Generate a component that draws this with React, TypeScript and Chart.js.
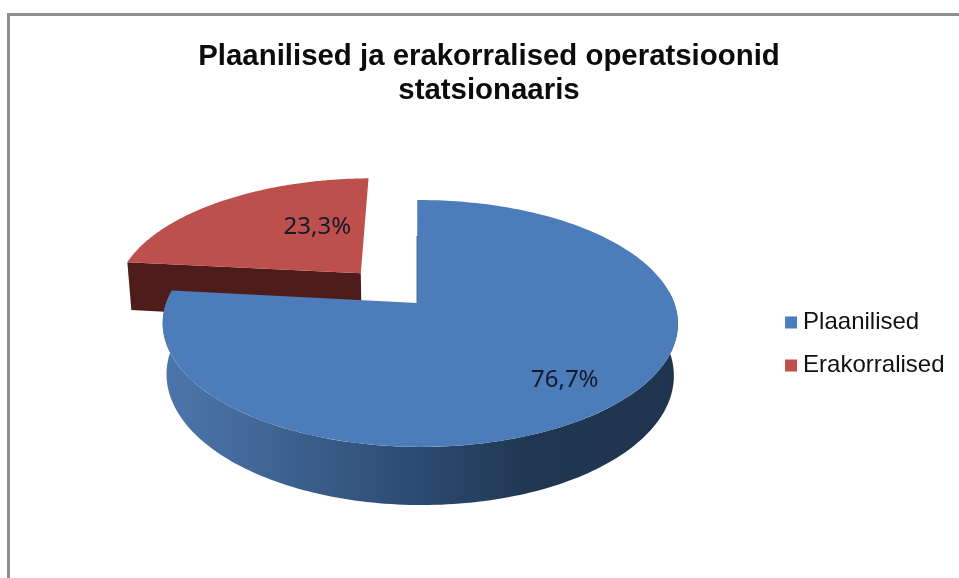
import React, { useEffect, useRef } from "react";
import { Chart, registerables } from "chart.js";

Chart.register(...registerables);

const categories = ["Plaanilised", "Erakorralised"];
const shares = [76.7, 23.3];
const titleLines = ["Plaanilised ja erakorralised operatsioonid", "statsionaaris"];
const faceColors = ["#4c7dba", "#bd4f4c"];
const legendColors = ["#4a7dc0", "#c0504d"];

// Perspective view of the disc (all ratios of the library's computed radius)
const PX = 1 / 138;
const VIEW = {
  scaleX: 254 * PX,
  scaleY: 120 * PX,
  depth: 51.5 * PX,
  tiltY: 0.166,
  tiltX: -0.0116,
  recede: 0.015,
  liftY: -41,
  shiftX: 19.5,
};

function pieMakerPlugin() {
  return {
    id: "pie3d",
    beforeDatasetsDraw(chart: any) {
      const ctx = chart.ctx;
      const arcs = chart.getDatasetMeta(0).data as any[];
      const first = arcs[0];
      const R = first.outerRadius;
      const ox = first.x + VIEW.shiftX;
      const oy = first.y + VIEW.liftY;
      const project = (u: number, v: number, z: number) => {
        const w = 1 - VIEW.tiltY * v + VIEW.tiltX * u + VIEW.recede * z;
        return [ox + (R * VIEW.scaleX * u) / w, oy + (R * VIEW.scaleY * v + R * VIEW.depth * z) / w];
      };
      const sliceOf = (arc: any) => {
        const mid = (arc.startAngle + arc.endAngle) / 2;
        const d = (arc.options.offset || 0) / 4 / R;
        return { mid, du: d * Math.cos(mid), dv: d * Math.sin(mid), a0: arc.startAngle, a1: arc.endAngle };
      };
      const rim = (s: any, a: number, z: number) => project(s.du + Math.cos(a), s.dv + Math.sin(a), z);
      const apex = (s: any, z: number) => project(s.du, s.dv, z);
      const poly = (pts: number[][], fill: any) => {
        ctx.beginPath();
        pts.forEach((p, i) => (i ? ctx.lineTo(p[0], p[1]) : ctx.moveTo(p[0], p[1])));
        ctx.closePath();
        ctx.fillStyle = fill;
        ctx.fill();
      };
      const steps = 160;
      const range = (a: number, b: number, z: number, s: any) => {
        const out: number[][] = [];
        for (let i = 0; i <= steps; i++) out.push(rim(s, a + ((b - a) * i) / steps, z));
        return out;
      };

      // back slice first: its cut wall, then its face
      const red = sliceOf(arcs[1]);
      poly([apex(red, 0), rim(red, red.a0, 0), rim(red, red.a0, 1), apex(red, 1)], "#4e1c1b");
      poly([apex(red, 0), ...range(red.a0, red.a1, 0, red)], faceColors[1]);

      // front slice: rounded wall, thin inner edge, face
      const blue = sliceOf(arcs[0]);
      const wallA = -0.1;
      const wallB = blue.a1;
      const left = project(-1, 0, 0)[0];
      const right = project(1, 0, 0)[0];
      const g = ctx.createLinearGradient(left, 0, right, 0);
      g.addColorStop(0, "#4c76aa");
      g.addColorStop(0.2, "#3f6594");
      g.addColorStop(0.5, "#2b4a70");
      g.addColorStop(0.72, "#203752");
      g.addColorStop(1, "#1f344f");
      poly([...range(wallA, wallB, 0, blue), ...range(wallB, wallA, 1, blue)], g);
      const top = rim(blue, blue.a0, 0);
      const c = apex(blue, 0);
      ctx.strokeStyle = "#1f344f";
      ctx.lineWidth = 1.2;
      ctx.beginPath();
      ctx.moveTo(c[0], top[1] + (c[1] - top[1]) * 0.35);
      ctx.lineTo(c[0], c[1]);
      ctx.stroke();
      poly([apex(blue, 0), ...range(blue.a0, blue.a1, 0, blue)], faceColors[0]);

      // value labels
      const placement = [
        { radial: 0.78, turn: 0 },
        { radial: 0.5, turn: 0.3 },
      ];
      ctx.font = '24px "Noto Sans"';
      ctx.fillStyle = "#14192a";
      ctx.textAlign = "center";
      ctx.textBaseline = "middle";
      [blue, red].forEach((s, i) => {
        const a = s.mid + placement[i].turn;
        const p = project(s.du + placement[i].radial * Math.cos(a), s.dv + placement[i].radial * Math.sin(a), 0);
        ctx.fillText(shares[i].toFixed(1).replace(".", ",") + "%", p[0], p[1]);
      });
      return false;
    },
  };
}

export default function App() {
  const ref = useRef<HTMLCanvasElement>(null);
  useEffect(() => {
    const chart = new Chart(ref.current as HTMLCanvasElement, {
      type: "pie",
      data: {
        labels: categories,
        datasets: [
          {
            data: shares,
            backgroundColor: legendColors,
            borderWidth: 0,
            offset: [0, 192],
          },
        ],
      },
      plugins: [pieMakerPlugin()],
      options: {
        responsive: false,
        animation: false,
        devicePixelRatio: 1,
        layout: { padding: { left: 23.5, right: 4.5, top: 0, bottom: 0 } },
        plugins: {
          tooltip: { enabled: false },
          title: {
            display: true,
            text: titleLines,
            color: "#0c0c0c",
            font: { family: '"Liberation Sans"', size: 29.4, weight: "bold", lineHeight: 34 / 29.4 },
            padding: { top: 40, bottom: 2 },
          },
          legend: {
            position: "right",
            fullSize: false,
            labels: {
              usePointStyle: true,
              pointStyle: "rect",
              boxWidth: 0.1,
              boxHeight: 12,
              padding: 19,
              color: "#111111",
              font: { family: '"Liberation Sans"', size: 24 },
            },
          },
        },
      } as any,
    });
    return () => chart.destroy();
  }, []);
  return (
    <div style={{ position: "absolute", left: 0, top: 0, width: 959, height: 578, background: "#fff", overflow: "hidden" }}>
      <div
        style={{
          position: "absolute",
          left: 7,
          top: 13,
          right: 0,
          bottom: 0,
          borderTop: "3px solid #8f8f8f",
          borderLeft: "3px solid #8f8f8f",
        }}
      />
      <canvas ref={ref} width={959} height={578} style={{ position: "absolute", left: 0, top: 0, filter: "blur(0.5px)" }} />
    </div>
  );
}
